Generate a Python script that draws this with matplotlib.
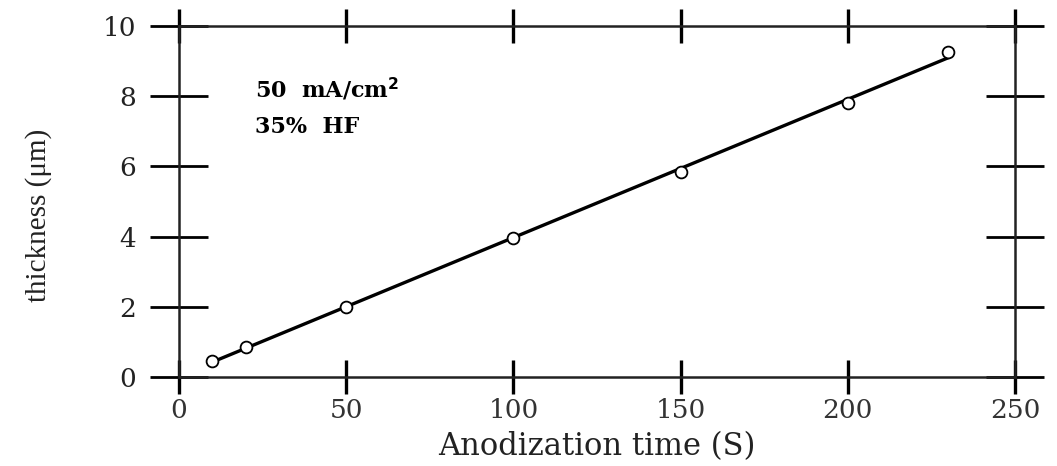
import numpy as np
import matplotlib
matplotlib.use("Agg")
import matplotlib.pyplot as plt

# datos
tiempo = [10, 20, 50, 100, 150, 200, 230]
espesor = [0.45, 0.85, 2.0, 3.97, 5.85, 7.8, 9.25]
xticks = [0, 50, 100, 150, 200, 250]
yticks = [0, 2, 4, 6, 8, 10]

plt.rcParams['font.family'] = ['DejaVu Serif', 'Liberation Serif']

fig = plt.figure(figsize=(10.57, 4.66), dpi=100)
ax = fig.add_axes([0.1693, 0.191, 0.7910, 0.7532])

# ajuste lineal
m, b = np.polyfit(tiempo, espesor, 1)
xl = np.array([tiempo[0], tiempo[-1]])
ax.plot(xl, m * xl + b, color='black', linewidth=2.4, zorder=2)
ax.plot(tiempo, espesor, 'o', ms=8.5, mfc='white', mec='black', mew=1.3, zorder=3)

ax.set_xlim(0, 250)
ax.set_ylim(0, 10)
ax.set_xticks(xticks)
ax.set_yticks(yticks)

for s in ax.spines.values():
    s.set_linewidth(1.8)
    s.set_color('#222222')

ax.tick_params(axis='x', which='both', direction='inout', length=24, width=2.4,
               top=True, labelsize=19, pad=3, labelcolor='#333333')
ax.tick_params(axis='y', which='both', direction='inout', length=42, width=2.0,
               right=True, labelsize=19, pad=10, labelcolor='#222222')

ax.set_xlabel('Anodization time (S)', fontsize=22, labelpad=6, color='#222222')
ax.set_ylabel('thickness (μm)', fontsize=21, labelpad=36, color='#222222',
              family=['Liberation Serif', 'DejaVu Serif'])
ax.yaxis.label.set_y(0.46)

ax.text(0.091, 0.818, '50  mA/cm$^\\mathbf{2}$', transform=ax.transAxes,
        fontsize=16, fontweight='bold', va='center')
ax.text(0.091, 0.712, '35%  HF', transform=ax.transAxes,
        fontsize=16, fontweight='bold', va='center')

fig.savefig('out.png', dpi=100)
